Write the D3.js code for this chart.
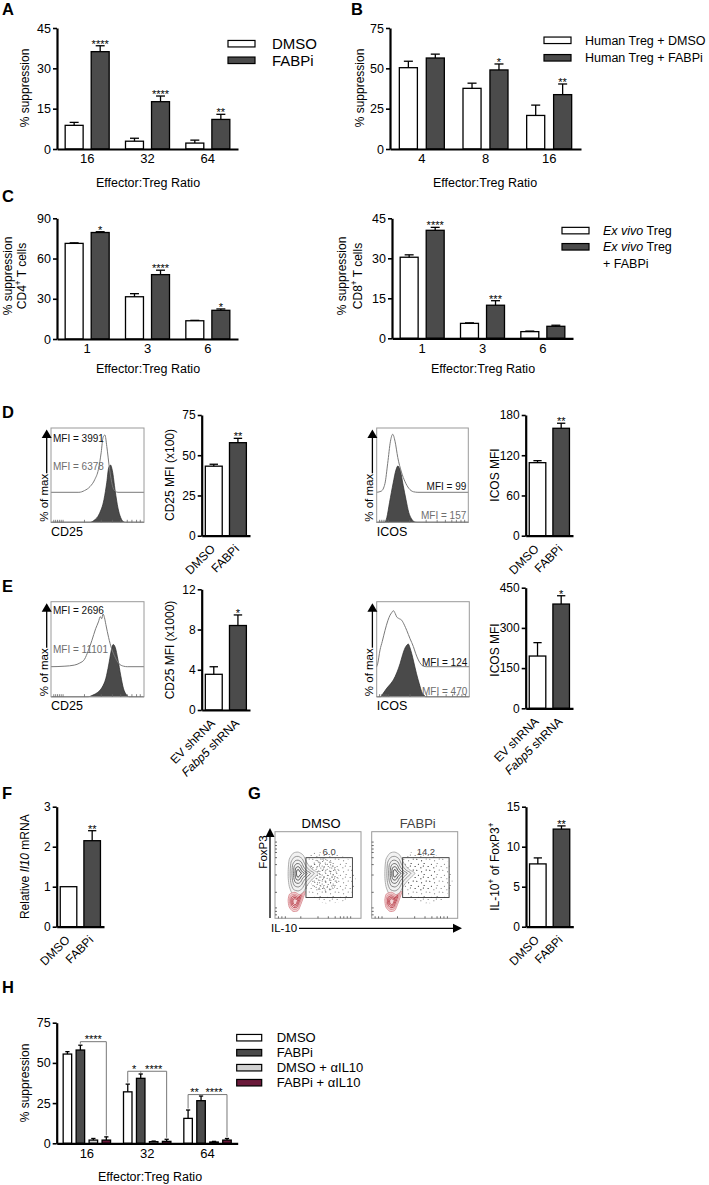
<!DOCTYPE html>
<html>
<head>
<meta charset="utf-8">
<script src="https://cdn.jsdelivr.net/npm/d3@7/dist/d3.min.js"></script>
<style>
  html,body{margin:0;padding:0;background:#fff;}
  svg text{font-family:"Liberation Sans",Arial,Helvetica,sans-serif;}
</style>
</head>
<body>
<svg id="fig" width="709" height="1185" xmlns="http://www.w3.org/2000/svg"></svg>
<script>
// ================= DATA =================
// Panel A – mouse Treg suppression
const ratioA = ["16", "32", "64"];
const aDMSO = [8.8, 2.9, 2.2];
const aDMSOErr = [1.1, 1.1, 1.1];
const aFABPi = [36.2, 17.6, 11.0];
const aFABPiErr = [2.2, 2.1, 1.9];
const aSig = ["****", "****", "**"];
const aTicks = [0, 15, 30, 45];
const aLegend = ["DMSO", "FABPi"];

// Panel B – human Treg suppression
const ratioB = ["4", "8", "16"];
const bDMSO = [50.4, 37.6, 20.8];
const bDMSOErr = [4.0, 3.2, 6.4];
const bFABPi = [56.4, 49.0, 33.7];
const bFABPiErr = [2.4, 3.7, 6.6];
const bSig = ["", "*", "**"];
const bTicks = [0, 25, 50, 75];
const bLegend = ["Human Treg + DMSO", "Human Treg + FABPi"];

// Panel C – ex vivo Treg, CD4 and CD8 targets
const ratioC = ["1", "3", "6"];
const cCD4DMSO = [71.3, 31.5, 13.6];
const cCD4DMSOErr = [0.4, 2.3, 0.3];
const cCD4FABPi = [79.4, 48.0, 21.4];
const cCD4FABPiErr = [0.6, 3.3, 1.0];
const cCD4Sig = ["*", "****", "*"];
const cCD4Ticks = [0, 30, 60, 90];
const cCD8DMSO = [30.4, 5.6, 2.5];
const cCD8DMSOErr = [0.9, 0.2, 0.2];
const cCD8FABPi = [40.5, 12.4, 4.5];
const cCD8FABPiErr = [1.1, 1.7, 0.4];
const cCD8Sig = ["****", "***", ""];
const cCD8Ticks = [0, 15, 30, 45];

// Panels D/E/F/G – two-bar comparisons
const treatments = ["DMSO", "FABPi"];
const shRNAs = ["EV shRNA", "Fabp5 shRNA"];
const dCD25 = [43.2, 57.8];
const dCD25Err = [1.2, 2.7];
const dCD25Ticks = [0, 25, 50, 75];
const dICOS = [108.9, 160.2];
const dICOSErr = [3.0, 7.5];
const dICOSTicks = [0, 60, 120, 180];
const eCD25 = [3.55, 8.4];
const eCD25Err = [0.75, 1.05];
const eCD25Ticks = [0, 4, 8, 12];
const eICOS = [195, 389];
const eICOSErr = [50, 31];
const eICOSTicks = [0, 150, 300, 450];
const fIl10 = [1.0, 2.15];
const fIl10Err = [0, 0.25];
const fTicks = [0, 1, 2, 3];
const gIL10 = [7.85, 12.2];
const gIL10Err = [0.75, 0.4];
const gTicks = [0, 5, 10, 15];
const dSig = ["", "**"], eSig = ["", "*"], fSig = ["", "**"], gSig = ["", "**"];

// Histogram overlays: [fraction of axis, % of max]
const histD_CD25_open = [[0,0],[0.30,0],[0.36,3],[0.42,10],[0.47,22],[0.51,40],[0.54,70],[0.56,96],[0.58,100],[0.60,80],[0.63,40],[0.66,12],[0.69,2],[0.72,0],[1,0]];
const histD_CD25_fill = [[0,0],[0.42,0],[0.46,3],[0.52,15],[0.57,40],[0.60,70],[0.62,95],[0.64,100],[0.66,90],[0.69,55],[0.72,25],[0.75,8],[0.78,1],[0.80,0],[1,0]];
const histD_ICOS_open = [[0,0],[0.05,2],[0.09,15],[0.12,50],[0.15,88],[0.175,100],[0.20,88],[0.23,60],[0.27,35],[0.31,18],[0.35,7],[0.40,1],[0.45,0],[1,0]];
const histD_ICOS_fill = [[0,0],[0.09,0],[0.11,8],[0.14,34],[0.18,68],[0.21,90],[0.23,97],[0.26,88],[0.29,63],[0.32,39],[0.35,17],[0.38,6],[0.41,1],[0.44,0],[1,0]];
const histE_CD25_open = [[0,0],[0.15,1],[0.25,3],[0.31,7],[0.36,14],[0.40,30],[0.44,50],[0.48,72],[0.51,85],[0.53,95],[0.545,91],[0.56,100],[0.575,93],[0.59,80],[0.62,55],[0.65,35],[0.69,18],[0.73,6],[0.78,1],[0.82,0],[1,0]];
const histE_CD25_fill = [[0,0],[0.40,0],[0.45,3],[0.50,8],[0.55,18],[0.59,35],[0.62,60],[0.645,85],[0.66,97],[0.67,99],[0.69,94],[0.72,70],[0.75,40],[0.78,15],[0.81,4],[0.84,0],[1,0]];
const histE_ICOS_open = [[0,0],[0.01,5],[0.036,30],[0.06,45],[0.09,65],[0.12,82],[0.144,92],[0.16,96],[0.18,100],[0.20,95],[0.216,89],[0.24,86],[0.27,83],[0.30,74],[0.324,65],[0.36,50],[0.396,36],[0.42,24],[0.45,12],[0.48,4],[0.504,1],[0.54,0],[1,0]];
const histE_ICOS_fill = [[0,0],[0.04,0],[0.07,6],[0.108,15],[0.15,23],[0.18,30],[0.22,44],[0.252,59],[0.28,75],[0.306,87],[0.325,92],[0.342,94],[0.36,87],[0.378,77],[0.40,62],[0.43,41],[0.46,23],[0.486,9],[0.51,3],[0.53,0],[1,0]];
const histTicks = [0.03,0.05,0.07,0.09,0.11,0.13,0.36,0.54,0.66,0.75,0.82,0.87,0.92,0.96];
const mfiD = ["MFI = 3991", "MFI = 6378", "MFI = 99", "MFI = 157"];
const mfiE = ["MFI = 2696", "MFI = 11101", "MFI = 124", "MFI = 470"];

// Panel G – flow plots (axis units 0–100)
const gSamples = ["DMSO", "FABPi"];
const gGatePct = ["6.0", "14.2"];
const gGate = [36, 90, 24, 70];            // x0, x1, y0, y1
const gGrayCenter = [27, 52];
const gGrayContour = [[15.4,56.6],[16.6,68.2],[21.2,75.2],[27,76.4],[32.8,72.9],[37.4,63.6],[43.2,56.6],[50.2,52],[43.2,45],[37.4,38.1],[32.8,30],[27,26.5],[20,28.8],[16.6,36.9],[15.4,46.2]];
const gRedCenter = [23.3, 19.3];
const gRedContour = [[15.3,21],[17,28],[23.3,30],[29,27],[35,31],[33,24],[30,16],[26.8,9],[21,8],[16.5,13]];
const gContourLevels = [1, 0.8, 0.62, 0.46, 0.31, 0.17];
const gDotCloud = [[30,64],[45,76],[70,74],[88,66],[94,40],[80,20],[55,18],[36,34]];
const gDotCore = [[40,62],[52,70],[66,66],[74,56],[72,38],[58,30],[46,34],[40,46]];
const gAxisTicks = [4, 8, 12, 30, 50, 62, 70, 76, 80, 84, 88];

// Panel H – IL-10 blockade
const ratioH = ["16", "32", "64"];
const hSeries = ["DMSO", "FABPi", "DMSO + \u03b1IL10", "FABPi + \u03b1IL10"];
const hDMSO = [55.5, 32.0, 15.5];
const hDMSOErr = [1.5, 4.8, 5.2];
const hFABPi = [58.0, 40.4, 26.5];
const hFABPiErr = [3.0, 2.7, 2.9];
const hDMSOa = [2.0, 1.0, 0.8];
const hDMSOaErr = [1.0, 0.4, 0.4];
const hFABPia = [2.0, 1.2, 2.0];
const hFABPiaErr = [2.0, 1.3, 1.0];
const hTicks = [0, 25, 50, 75];
const hBrackets = [
  {grp: "16", a: 1, b: 3, h: 63.2, t: "****"},
  {grp: "32", a: 0, b: 1, h: 44.8, t: "*"},
  {grp: "32", a: 1, b: 3, h: 44.8, t: "****"},
  {grp: "64", a: 0, b: 1, h: 30.3, t: "**"},
  {grp: "64", a: 1, b: 3, h: 30.3, t: "****"}
];

// ================= DRAWING =================
const svg = d3.select("#fig");
const DARK = "#4b4b4b", WHITE = "#ffffff", LIGHT = "#d2d2d2", MAROON = "#6a1a3a";
const defs = svg.append("defs");

function addText(parent, x, y, parts, o = {}) {
  const t = parent.append("text").attr("x", x).attr("y", y);
  const size = o.size || 12;
  t.attr("font-size", size);
  if (o.anchor) t.attr("text-anchor", o.anchor);
  if (o.weight) t.attr("font-weight", o.weight);
  t.style("fill", o.fill || "#000");
  if (o.transform) t.attr("transform", o.transform);
  if (o.dy) t.attr("dy", o.dy);
  const list = typeof parts === "string" ? [{t: parts}] : parts;
  let prevSup = false;
  list.forEach(p => {
    const s = t.append("tspan").text(p.t);
    if (p.i) s.attr("font-style", "italic");
    if (p.sup) { s.attr("font-size", size * 0.68).attr("dy", -size * 0.42); prevSup = true; }
    else if (prevSup) { s.attr("dy", size * 0.42); prevSup = false; }
  });
  return t;
}
function yTitle(x, y, parts, size = 12) {
  return addText(svg, 0, 0, parts, {size, anchor: "middle", dy: "0.35em", transform: `translate(${x},${y}) rotate(-90)`});
}
function panelLabel(t, x, y) { addText(svg, x, y, t, {size: 16.5, weight: "bold"}); }
function styleAxis(a, fs) {
  a.select(".domain").attr("stroke", "#000").attr("stroke-width", 2.2);
  a.selectAll(".tick line").attr("stroke", "#000").attr("stroke-width", 1.6);
  a.selectAll(".tick text").attr("font-size", fs).style("fill", "#000")
    .attr("font-family", '"Liberation Sans",Arial,sans-serif');
}
function drawBars(g, rows, y) {
  g.selectAll(null).data(rows).join("rect")
    .attr("x", d => d.x).attr("width", d => d.w)
    .attr("y", d => y(d.v)).attr("height", d => y(0) - y(d.v))
    .attr("fill", d => d.fill).attr("stroke", "#000").attr("stroke-width", 1.3);
  const eb = rows.filter(d => d.e > 0);
  g.selectAll(null).data(eb).join("line")
    .attr("x1", d => d.x + d.w / 2).attr("x2", d => d.x + d.w / 2)
    .attr("y1", d => y(d.v)).attr("y2", d => y(d.v + d.e))
    .attr("stroke", "#000").attr("stroke-width", 1.3);
  g.selectAll(null).data(eb).join("line")
    .attr("x1", d => d.x + d.w * 0.25).attr("x2", d => d.x + d.w * 0.75)
    .attr("y1", d => y(d.v + d.e)).attr("y2", d => y(d.v + d.e))
    .attr("stroke", "#000").attr("stroke-width", 1.3);
  g.selectAll(null).data(rows.filter(d => d.sig)).join("text")
    .attr("x", d => d.x + d.w / 2).attr("y", d => y(d.v + d.e) + 2)
    .attr("text-anchor", "middle").attr("font-size", 11).style("fill", "#000")
    .text(d => d.sig);
}
function yAxis(g, y, x0, ticks, fs = 12.5) {
  const a = g.append("g").attr("transform", `translate(${x0},0)`)
    .call(d3.axisLeft(y).tickValues(ticks).tickSizeInner(4).tickSizeOuter(0).tickPadding(2).tickFormat(d3.format("d")));
  styleAxis(a, fs);
}

// grouped bar chart
function groupedPanel(o) {
  const g = svg.append("g");
  const y = d3.scaleLinear().domain([0, o.max]).range([o.yBot, o.yTop]);
  const xg = d3.scaleBand().domain(o.groups).range([o.x0, o.x1]);
  const xs = d3.scaleBand().domain(d3.range(o.values.length)).range([-o.gw / 2, o.gw / 2]).paddingInner(o.pad);
  const rows = [];
  o.values.forEach((vals, s) => vals.forEach((v, i) => rows.push({
    x: xg(o.groups[i]) + xg.bandwidth() / 2 + xs(s), w: xs.bandwidth(),
    v, e: o.errs[s][i], fill: o.fills[s], sig: (o.sig && s === o.values.length - 1) ? o.sig[i] : ""
  })));
  drawBars(g, rows, y);
  yAxis(g, y, o.x0, o.ticks);
  const xa = g.append("g").attr("transform", `translate(0,${o.yBot})`)
    .call(d3.axisBottom(xg).tickSize(0).tickSizeOuter(0).tickPadding(5));
  styleAxis(xa, 13);
  return {g, y, xg, xs};
}

// two-bar chart with rotated labels
function pairPanel(o) {
  const g = svg.append("g");
  const y = d3.scaleLinear().domain([0, o.max]).range([o.yBot, o.yTop]);
  const xb = d3.scaleBand().domain(o.cats).range([o.x0, o.x1]).paddingInner(0.3).paddingOuter(0.15);
  const rows = o.cats.map((c, i) => ({x: xb(c), w: xb.bandwidth(), v: o.values[i], e: o.errs[i], fill: [WHITE, DARK][i], sig: o.sig[i]}));
  drawBars(g, rows, y);
  yAxis(g, y, o.x0, o.ticks, 12);
  const xa = g.append("g").attr("transform", `translate(0,${o.yBot})`)
    .call(d3.axisBottom(xb).tickSize(0).tickSizeOuter(0).tickFormat(""));
  styleAxis(xa, 12);
  o.cats.forEach((c, i) => {
    const cx = xb(c) + xb.bandwidth() / 2;
    addText(g, 0, 0, o.labels[i], {size: 12, anchor: "end", dy: "0.35em",
      transform: `translate(${cx - 1},${o.yBot + 11}) rotate(-45)`});
  });
  return {g, y};
}

function legend(items, fills, bx, ycs, tx, fs, bw = 27, bh = 6.5) {
  const g = svg.append("g");
  g.selectAll(null).data(fills).join("rect")
    .attr("x", bx).attr("y", (d, i) => ycs[i] - bh / 2).attr("width", bw).attr("height", bh)
    .attr("fill", d => d).attr("stroke", "#000").attr("stroke-width", 1.2);
  items.forEach((it, i) => addText(g, tx, ycs[i] + fs * 0.35, it, {size: fs}));
}

// ---------- Panel A ----------
panelLabel("A", 2, 15);
groupedPanel({x0: 57, x1: 238, yTop: 28, yBot: 149, max: 45, ticks: aTicks, groups: ratioA,
  values: [aDMSO, aFABPi], errs: [aDMSOErr, aFABPiErr], fills: [WHITE, DARK], gw: 44, pad: 0.31, sig: aSig});
yTitle(25, 88, "% suppression");
addText(svg, 148, 187, "Effector:Treg Ratio", {size: 12.5, anchor: "middle"});
legend([aLegend[0], aLegend[1]], [WHITE, DARK], 228, [43.7, 60.3], 272, 15);

// ---------- Panel B ----------
panelLabel("B", 351, 15);
groupedPanel({x0: 390, x1: 581, yTop: 28, yBot: 149, max: 75, ticks: bTicks, groups: ratioB,
  values: [bDMSO, bFABPi], errs: [bDMSOErr, bFABPiErr], fills: [WHITE, DARK], gw: 45, pad: 0.33, sig: bSig});
yTitle(360, 88, "% suppression");
addText(svg, 485, 187, "Effector:Treg Ratio", {size: 12.5, anchor: "middle"});
legend(bLegend, [WHITE, DARK], 544, [40.3, 57.8], 585, 12.5);

// ---------- Panel C ----------
panelLabel("C", 2, 202);
groupedPanel({x0: 57, x1: 238, yTop: 218.3, yBot: 339, max: 90, ticks: cCD4Ticks, groups: ratioC,
  values: [cCD4DMSO, cCD4FABPi], errs: [cCD4DMSOErr, cCD4FABPiErr], fills: [WHITE, DARK], gw: 44, pad: 0.31, sig: cCD4Sig});
yTitle(8, 276, "% suppression");
yTitle(22, 276, [{t: "CD4"}, {t: "+", sup: true}, {t: " T cells"}]);
addText(svg, 148, 373, "Effector:Treg Ratio", {size: 12.5, anchor: "middle"});

groupedPanel({x0: 392, x1: 573, yTop: 218.3, yBot: 338.3, max: 45, ticks: cCD8Ticks, groups: ratioC,
  values: [cCD8DMSO, cCD8FABPi], errs: [cCD8DMSOErr, cCD8FABPiErr], fills: [WHITE, DARK], gw: 44, pad: 0.31, sig: cCD8Sig});
yTitle(342, 276, "% suppression");
yTitle(358, 276, [{t: "CD8"}, {t: "+", sup: true}, {t: " T cells"}]);
addText(svg, 483, 373, "Effector:Treg Ratio", {size: 12.5, anchor: "middle"});
legend([[{t: "Ex vivo", i: true}, {t: " Treg"}], [{t: "Ex vivo", i: true}, {t: " Treg"}]], [WHITE, DARK], 562, [230.6, 246.8], 603, 12.5);
addText(svg, 603, 263.3 + 12.5 * 0.35, "+ FABPi", {size: 12.5});

// ---------- Histograms ----------
function histPanel(o) {
  const g = svg.append("g");
  const bottom = o.y + o.h;
  const hx = d3.scaleLinear().domain([0, 1]).range([o.x, o.x + o.w]);
  const hyO = d3.scaleLinear().domain([0, 100]).range([bottom - o.openBase, bottom - o.openBase - o.peak]);
  const hyF = d3.scaleLinear().domain([0, 100]).range([bottom, bottom - o.peak]);
  g.append("path").datum(o.fill)
    .attr("d", d3.area().x(d => hx(d[0])).y0(bottom).y1(d => hyF(d[1])).curve(d3.curveMonotoneX))
    .attr("fill", "#4a4a4a").attr("stroke", "#2a2a2a").attr("stroke-width", 0.7);
  g.append("path").datum(o.open)
    .attr("d", d3.line().x(d => hx(d[0])).y(d => hyO(d[1])).curve(d3.curveMonotoneX))
    .attr("fill", "none").attr("stroke", "#7a7a7a").attr("stroke-width", 1);
  g.append("rect").attr("x", o.x).attr("y", o.y).attr("width", o.w).attr("height", o.h)
    .attr("fill", "none").attr("stroke", "#9a9a9a").attr("stroke-width", 1);
  g.selectAll(null).data(histTicks).join("line")
    .attr("x1", d => hx(d)).attr("x2", d => hx(d)).attr("y1", bottom).attr("y2", bottom - 2.5)
    .attr("stroke", "#666").attr("stroke-width", 0.8);
  const ax = o.x - 4.3;
  g.append("line").attr("x1", ax).attr("x2", ax).attr("y1", bottom - 49).attr("y2", o.y + 9)
    .attr("stroke", "#000").attr("stroke-width", 1.3);
  g.append("path").attr("d", `M${ax},${o.y + 1.5} L${ax - 5},${o.y + 10} L${ax + 5},${o.y + 10} Z`).attr("fill", "#000");
  addText(g, 0, 0, "% of max", {size: 11.5, anchor: "middle", dy: "0.35em",
    transform: `translate(${o.x - 7.5},${bottom - 24.5}) rotate(-90)`});
  addText(g, o.x, bottom + 13.5, o.axis, {size: 12.5});
  o.labels.forEach(l => addText(g, l.right ? o.x + o.w - 2 : o.x + 2, l.y, l.t,
    {size: 10, anchor: l.right ? "end" : "start", fill: l.gray ? "#6e6e6e" : "#111"}));
}

// ---------- Panel D ----------
panelLabel("D", 2, 418);
histPanel({x: 51, y: 428, w: 93, h: 94.3, openBase: 30, peak: 57.3, open: histD_CD25_open, fill: histD_CD25_fill, axis: "CD25",
  labels: [{t: mfiD[0], y: 441.5}, {t: mfiD[1], y: 470, gray: true}]});
histPanel({x: 376.7, y: 428, w: 91.6, h: 94.3, openBase: 30, peak: 58, open: histD_ICOS_open, fill: histD_ICOS_fill, axis: "ICOS",
  labels: [{t: mfiD[2], y: 490, right: true}, {t: mfiD[3], y: 519, gray: true, right: true}]});
pairPanel({x0: 201.7, x1: 250, yTop: 415, yBot: 535.7, max: 75, ticks: dCD25Ticks, cats: treatments,
  values: dCD25, errs: dCD25Err, sig: dSig, labels: treatments});
yTitle(170, 475, "CD25 MFI (x100)");
pairPanel({x0: 525.7, x1: 573, yTop: 415, yBot: 535.7, max: 180, ticks: dICOSTicks, cats: treatments,
  values: dICOS, errs: dICOSErr, sig: dSig, labels: treatments});
yTitle(495, 475, "ICOS MFI");

// ---------- Panel E ----------
panelLabel("E", 2, 592);
histPanel({x: 51, y: 601.7, w: 93, h: 95, openBase: 30, peak: 52.7, open: histE_CD25_open, fill: histE_CD25_fill, axis: "CD25",
  labels: [{t: mfiE[0], y: 613.5}, {t: mfiE[1], y: 652.8, gray: true}]});
histPanel({x: 376.7, y: 601.7, w: 92.6, h: 95, openBase: 30, peak: 56, open: histE_ICOS_open, fill: histE_ICOS_fill, axis: "ICOS",
  labels: [{t: mfiE[2], y: 666, right: true}, {t: mfiE[3], y: 695, gray: true, right: true}]});
const shLabels = [[{t: "EV shRNA"}], [{t: "Fabp5", i: true}, {t: " shRNA"}]];
pairPanel({x0: 201.7, x1: 250, yTop: 589.3, yBot: 710, max: 12, ticks: eCD25Ticks, cats: shRNAs,
  values: eCD25, errs: eCD25Err, sig: eSig, labels: shLabels});
yTitle(170, 650, "CD25 MFI (x1000)");
pairPanel({x0: 525.7, x1: 573, yTop: 587.7, yBot: 708.3, max: 450, ticks: eICOSTicks, cats: shRNAs,
  values: eICOS, errs: eICOSErr, sig: eSig, labels: shLabels});
yTitle(495, 650, "ICOS MFI");

// ---------- Panel F ----------
panelLabel("F", 2, 799);
pairPanel({x0: 56.7, x1: 104, yTop: 806.7, yBot: 926.7, max: 3, ticks: fTicks, cats: treatments,
  values: fIl10, errs: fIl10Err, sig: fSig, labels: treatments});
yTitle(25, 866.7, [{t: "Relative "}, {t: "Il10", i: true}, {t: " mRNA"}]);

// ---------- Panel G ----------
panelLabel("G", 248, 799);
// irregular dot textures for the flow-cytometry event clouds
const pDense = defs.append("pattern").attr("id", "dotsDense").attr("patternUnits", "userSpaceOnUse").attr("width", 11).attr("height", 9);
[[0.6,0.8],[3.1,1.9],[6.8,0.5],[9.2,2.4],[1.8,4.1],[5.0,3.6],[8.1,5.2],[10.4,6.9],[0.9,7.3],[3.7,6.4],[6.2,8.1],[4.6,5.1]]
  .forEach(p => pDense.append("circle").attr("cx", p[0]).attr("cy", p[1]).attr("r", 0.5).attr("fill", "#2a2a2a"));
const pSparse = defs.append("pattern").attr("id", "dotsSparse").attr("patternUnits", "userSpaceOnUse").attr("width", 13).attr("height", 11);
[[0.8,1.2],[5.6,2.8],[10.2,0.9],[2.4,6.3],[8.1,5.4],[12.1,8.6],[4.9,9.7],[7.3,8.0]]
  .forEach(p => pSparse.append("circle").attr("cx", p[0]).attr("cy", p[1]).attr("r", 0.5).attr("fill", "#333"));

const facsW = 86, facsH = 86.6, facsY = 831.7;
const facsX = [275, 371.7];
gSamples.forEach((s, k) => {
  const g = svg.append("g");
  const fx = d3.scaleLinear().domain([0, 100]).range([facsX[k], facsX[k] + facsW]);
  const fy = d3.scaleLinear().domain([0, 100]).range([facsY + facsH, facsY]);
  const clipId = "clip" + k;
  defs.append("clipPath").attr("id", clipId).append("rect").attr("x", facsX[k]).attr("y", facsY).attr("width", facsW).attr("height", facsH);
  const inner = g.append("g").attr("clip-path", `url(#${clipId})`);
  const closed = d3.line().x(d => fx(d[0])).y(d => fy(d[1])).curve(d3.curveCardinalClosed.tension(0.3));
  inner.append("path").attr("d", closed(gDotCloud)).attr("fill", "url(#dotsSparse)").attr("opacity", 0.85);
  inner.append("path").attr("d", closed(gDotCore)).attr("fill", k === 0 ? "url(#dotsDense)" : "url(#dotsSparse)").attr("opacity", 0.85);
  gContourLevels.forEach((lv, j) => {
    const pts = gGrayContour.map(p => [gGrayCenter[0] + (p[0] - gGrayCenter[0]) * lv, gGrayCenter[1] + (p[1] - gGrayCenter[1]) * lv]);
    inner.append("path").attr("d", closed(pts)).attr("fill", j === 0 ? "#f2f2f2" : "none")
      .attr("stroke", d3.interpolateGreys(0.45 + j * 0.08)).attr("stroke-width", 0.9);
  });
  gContourLevels.slice(0, 5).forEach((lv, j) => {
    const pts = gRedContour.map(p => [gRedCenter[0] + (p[0] - gRedCenter[0]) * lv, gRedCenter[1] + (p[1] - gRedCenter[1]) * lv]);
    inner.append("path").attr("d", closed(pts)).attr("fill", j === 0 ? "#f3d6d8" : "none")
      .attr("stroke", j < 2 ? "#d98c92" : "#b83a45").attr("stroke-width", 0.9);
  });
  g.append("rect").attr("x", fx(gGate[0])).attr("y", fy(gGate[3])).attr("width", fx(gGate[1]) - fx(gGate[0]))
    .attr("height", fy(gGate[2]) - fy(gGate[3])).attr("fill", "none").attr("stroke", "#333").attr("stroke-width", 0.9);
  addText(g, fx((gGate[0] + gGate[1]) / 2), fy(gGate[3]) - 2.5, gGatePct[k], {size: 9.5, anchor: "middle", fill: "#444"});
  g.append("rect").attr("x", facsX[k]).attr("y", facsY).attr("width", facsW).attr("height", facsH)
    .attr("fill", "none").attr("stroke", "#9a9a9a").attr("stroke-width", 1);
  g.selectAll(null).data(gAxisTicks).join("line")
    .attr("x1", d => fx(d)).attr("x2", d => fx(d)).attr("y1", fy(0)).attr("y2", fy(0) - 2)
    .attr("stroke", "#444").attr("stroke-width", 0.8);
  g.selectAll(null).data(gAxisTicks).join("line")
    .attr("y1", d => fy(d)).attr("y2", d => fy(d)).attr("x1", fx(0)).attr("x2", fx(0) + 2)
    .attr("stroke", "#444").attr("stroke-width", 0.8);
  addText(g, facsX[k] + facsW / 2 + 3, facsY - 4, s, {size: 13, anchor: "middle", fill: k === 0 ? "#000" : "#444"});
});
svg.append("line").attr("x1", 270).attr("x2", 270).attr("y1", 918).attr("y2", 836).attr("stroke", "#000").attr("stroke-width", 1.3);
svg.append("path").attr("d", "M270,828 L265.5,837 L274.5,837 Z").attr("fill", "#000");
yTitle(263, 852, "FoxP3", 11.5);
svg.append("line").attr("x1", 299).attr("x2", 454).attr("y1", 928.3).attr("y2", 928.3).attr("stroke", "#000").attr("stroke-width", 1.3);
svg.append("path").attr("d", "M462,928.3 L453,923.8 L453,932.8 Z").attr("fill", "#000");
addText(svg, 271, 932.3, "IL-10", {size: 11.5});

pairPanel({x0: 526, x1: 573.3, yTop: 806.7, yBot: 926.7, max: 15, ticks: gTicks, cats: treatments,
  values: gIL10, errs: gIL10Err, sig: gSig, labels: treatments});
yTitle(495, 866.7, [{t: "IL-10"}, {t: "+", sup: true}, {t: " of FoxP3"}, {t: "+", sup: true}]);

// ---------- Panel H ----------
panelLabel("H", 2, 993);
const H = groupedPanel({x0: 56.7, x1: 237.7, yTop: 1022.7, yBot: 1143.3, max: 75, ticks: hTicks, groups: ratioH,
  values: [hDMSO, hFABPi, hDMSOa, hFABPia], errs: [hDMSOErr, hFABPiErr, hDMSOaErr, hFABPiaErr],
  fills: [WHITE, DARK, LIGHT, MAROON], gw: 47.4, pad: 0.345});
const hVals = [hDMSO, hFABPi, hDMSOa, hFABPia], hErrs = [hDMSOErr, hFABPiErr, hDMSOaErr, hFABPiaErr];
const bxH = (grp, s) => H.xg(grp) + H.xg.bandwidth() / 2 + H.xs(s) + H.xs.bandwidth() / 2;
const topH = (grp, s) => { const i = ratioH.indexOf(grp); return H.y(hVals[s][i] + hErrs[s][i]) - 1.5; };
H.g.selectAll(null).data(hBrackets).join("path")
  .attr("d", d => `M${bxH(d.grp, d.a)},${topH(d.grp, d.a)} V${H.y(d.h)} H${bxH(d.grp, d.b)} V${topH(d.grp, d.b)}`)
  .attr("fill", "none").attr("stroke", "#777").attr("stroke-width", 1);
H.g.selectAll(null).data(hBrackets).join("text")
  .attr("x", d => (bxH(d.grp, d.a) + bxH(d.grp, d.b)) / 2).attr("y", d => H.y(d.h) + 1.5)
  .attr("text-anchor", "middle").attr("font-size", 11).style("fill", "#000").text(d => d.t);
yTitle(25, 1083, "% suppression");
addText(svg, 150, 1181, "Effector:Treg Ratio", {size: 12.5, anchor: "middle"});
legend(hSeries, [WHITE, DARK, LIGHT, MAROON], 236.7, [1037.7, 1052.7, 1067.7, 1082.7], 276.7, 13, 25, 6.5);
</script>
</body>
</html>
